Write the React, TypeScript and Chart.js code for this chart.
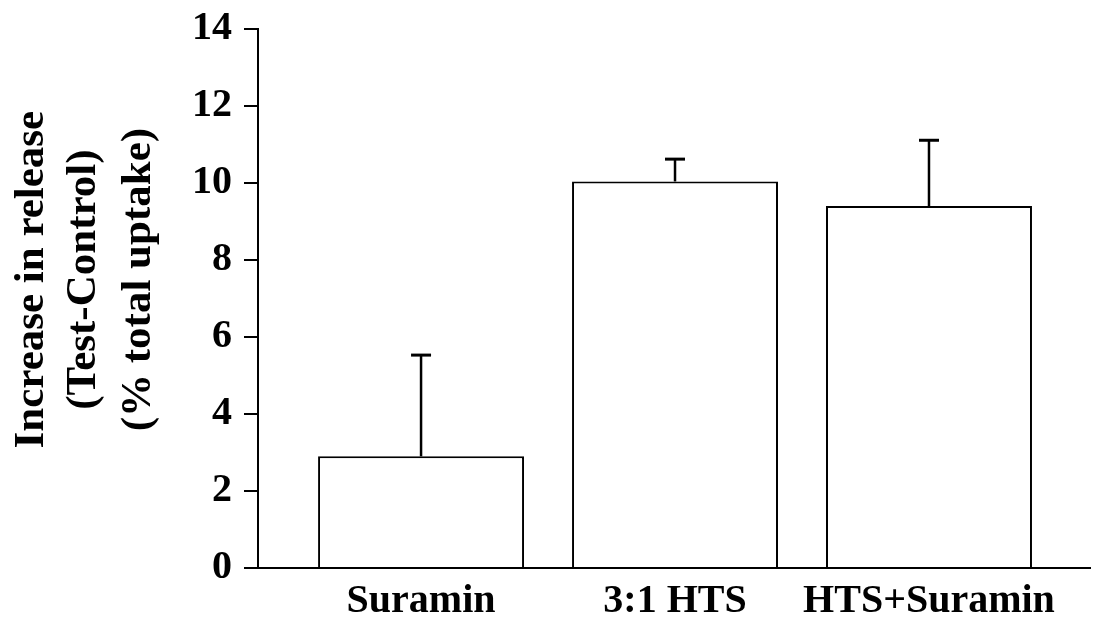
import React, { useEffect, useRef } from "react";
import { Chart, registerables } from "chart.js";

Chart.register(...registerables);

const categories = ["Suramin", "3:1 HTS", "HTS+Suramin"];
const positions = [1, 2, 3];
const values = [2.9, 10.04, 9.4];
const errors = [2.63, 0.58, 1.71];
const yTicks = [0, 2, 4, 6, 8, 10, 12, 14];
const yTitle = ["Increase in release", "(Test-Control)", "(% total uptake)"];

const FONT = '"Liberation Serif", "Times New Roman", serif';

const errorBarPlugin = {
  id: "errorBars",
  afterDatasetsDraw(chart: any) {
    const meta = chart.getDatasetMeta(0);
    const yScale = chart.scales.y;
    const ctx = chart.ctx;
    ctx.save();
    ctx.strokeStyle = "#000";
    meta.data.forEach((bar: any, i: number) => {
      const x = bar.x;
      const yBase = bar.y;
      const yTop = yScale.getPixelForValue(values[i] + errors[i]);
      ctx.lineWidth = 2.5;
      ctx.beginPath();
      ctx.moveTo(x, yBase);
      ctx.lineTo(x, yTop);
      ctx.stroke();
      ctx.lineWidth = 3;
      ctx.beginPath();
      ctx.moveTo(x - 10, yTop);
      ctx.lineTo(x + 10, yTop);
      ctx.stroke();
    });
    ctx.restore();
  },
};

// y-axis title drawn as real text, three lines, rotated
const yTitlePlugin = {
  id: "yTitle",
  afterDraw(chart: any) {
    const ctx = chart.ctx;
    const area = chart.chartArea;
    const centerY = area.top + (area.bottom - area.top) * 0.465;
    const baselines = [43, 95, 150];
    ctx.save();
    ctx.fillStyle = "#000";
    ctx.font = `bold 43px ${FONT}`;
    ctx.textAlign = "center";
    ctx.textBaseline = "alphabetic";
    yTitle.forEach((line, i) => {
      ctx.save();
      ctx.translate(baselines[i], centerY);
      ctx.rotate(-Math.PI / 2);
      ctx.fillText(line, 0, 0);
      ctx.restore();
    });
    ctx.restore();
  },
};

export default function App() {
  const ref = useRef<HTMLCanvasElement | null>(null);
  useEffect(() => {
    document.body.style.margin = "0";
    const chart = new Chart(ref.current as HTMLCanvasElement, {
      type: "bar",
      data: {
        datasets: [
          {
            data: values.map((v, i) => ({ x: positions[i], y: v })),
            backgroundColor: "#fff",
            borderColor: "#000",
            borderWidth: 2,
            barPercentage: 0.811,
            categoryPercentage: 1,
          },
        ],
      },
      options: {
        animation: false,
        responsive: true,
        maintainAspectRatio: false,
        layout: { padding: { top: 29, right: 7, left: 0, bottom: 0 } },
        plugins: { legend: { display: false }, tooltip: { enabled: false } },
        scales: {
          x: {
            type: "linear",
            min: 0.358,
            max: 3.634,
            offset: false,
            z: 1,
            afterBuildTicks: (scale: any) => {
              scale.ticks = positions.map((p) => ({ value: p }));
            },
            afterFit: (scale: any) => {
              scale.height = 51;
              scale.paddingLeft = 0;
              scale.paddingRight = 0;
            },
            grid: { display: true, offset: false, drawOnChartArea: false, drawTicks: false },
            border: { display: true, color: "#000", width: 2 },
            ticks: {
              color: "#000",
              padding: 10,
              autoSkip: false,
              maxRotation: 0,
              font: { family: FONT, size: 40, weight: "bold" },
              callback: (v: any) => {
                const idx = positions.indexOf(Number(v));
                return idx >= 0 ? categories[idx] : "";
              },
            },
          },
          y: {
            min: 0,
            max: 14,
            z: 1,
            afterBuildTicks: (scale: any) => {
              scale.ticks = yTicks.map((t) => ({ value: t }));
            },
            afterFit: (scale: any) => {
              scale.width = 258;
              scale.paddingTop = 0;
              scale.paddingBottom = 0;
            },
            grid: {
              display: true,
              drawOnChartArea: false,
              drawTicks: true,
              tickLength: 14,
              color: "#000",
              lineWidth: 2,
            },
            border: { display: true, color: "#000", width: 2 },
            ticks: {
              color: "#000",
              padding: 12,
              font: { family: FONT, size: 40, weight: "bold" },
            },
            title: { display: false },
          },
        },
      },
      plugins: [errorBarPlugin, yTitlePlugin],
    });
    return () => chart.destroy();
  }, []);
  return (
    <div style={{ position: "absolute", left: 0, top: 0, width: 1097, height: 619 }}>
      <canvas ref={ref} />
    </div>
  );
}
